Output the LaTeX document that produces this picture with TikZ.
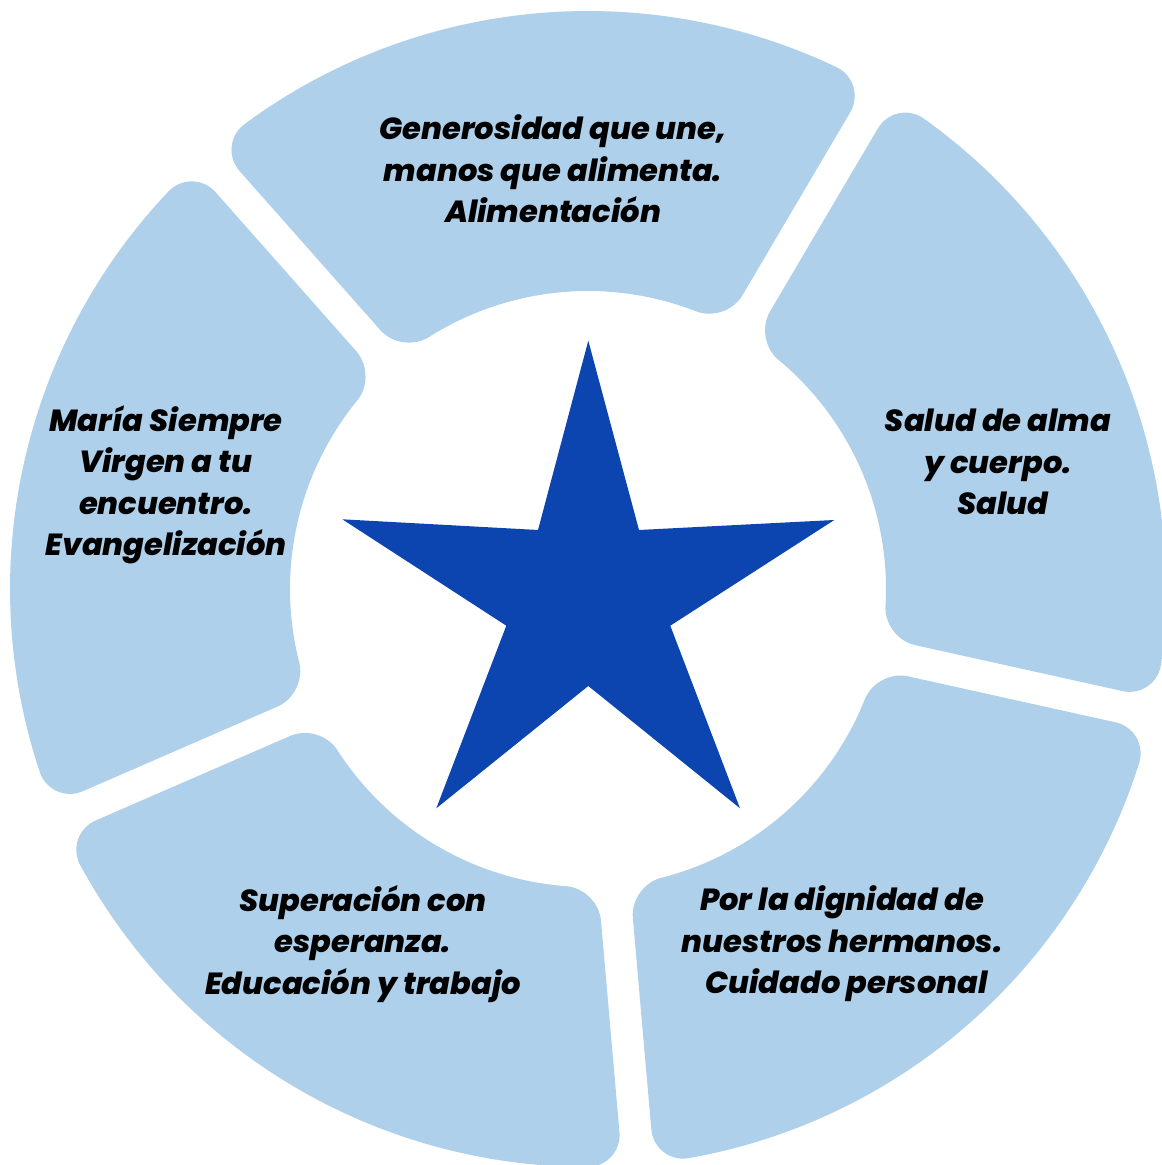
\documentclass[tikz,border=0pt]{standalone}
\usepackage{fontspec}
\setmainfont{Poppins}
\IfFontExistsTF{Poppins ExtraBold Italic}
  {\newfontfamily\lblfont{Poppins ExtraBold Italic}}
  {\newfontfamily\lblfont{Poppins Bold Italic}}
\usetikzlibrary{calc}
\definecolor{segblue}{HTML}{AFD0EA}
\definecolor{starblue}{HTML}{0C45B0}
\newcommand{\ringseg}[2]{%
 \pgfmathsetmacro{\pA}{#1+\dIn}%
 \pgfmathsetmacro{\pAe}{#1+\dIn+\eIn}%
 \pgfmathsetmacro{\pB}{#1+\dOut}%
 \pgfmathsetmacro{\pBe}{#1+\dOut+\eOut}%
 \pgfmathsetmacro{\pC}{#2-\dOut}%
 \pgfmathsetmacro{\pCe}{#2-\dOut-\eOut}%
 \pgfmathsetmacro{\pD}{#2-\dIn}%
 \pgfmathsetmacro{\pDe}{#2-\dIn-\eIn}%
 \coordinate (K1) at ($(C)+(\pA:\rIn)$);
 \coordinate (K2) at ($(C)+(\pB:\rOut)$);
 \coordinate (K3) at ($(C)+(\pC:\rOut)$);
 \coordinate (K4) at ($(C)+(\pD:\rIn)$);
 \coordinate (A1) at ($(K1)+(#1:\cornerd)$);
 \coordinate (B2) at ($(K2)-(#1:\cornerd)$);
 \coordinate (A2) at ($(C)+(\pBe:\rOut)$);
 \coordinate (B3) at ($(C)+(\pCe:\rOut)$);
 \coordinate (A3) at ($(K3)-(#2:\cornerd)$);
 \coordinate (B4) at ($(K4)+(#2:\cornerd)$);
 \coordinate (A4) at ($(C)+(\pDe:\rIn)$);
 \coordinate (B1) at ($(C)+(\pAe:\rIn)$);
 \fill[segblue] (A1) -- (B2)
   .. controls ($(B2)!0.55!(K2)$) and ($(A2)!0.55!(K2)$) .. (A2)
   arc[start angle=\pBe, end angle=\pCe, radius=\rOut]
   .. controls ($(B3)!0.55!(K3)$) and ($(A3)!0.55!(K3)$) .. (A3)
   -- (B4)
   .. controls ($(B4)!0.55!(K4)$) and ($(A4)!0.55!(K4)$) .. (A4)
   arc[start angle=\pDe, end angle=\pAe, radius=\rIn]
   .. controls ($(B1)!0.55!(K1)$) and ($(A1)!0.55!(K1)$) .. (A1) -- cycle;}
\tikzset{
  lbl/.style={align=center, inner sep=0pt, text=black,
    font=\lblfont\fontsize{30.5}{41.5}\selectfont}
}
\begin{document}
\begin{tikzpicture}[x=1pt,y=1pt]
\useasboundingbox (0,0) rectangle (1162,1165);
\coordinate (C) at (588,576);
\def\rOut{578}
\def\rIn{298}
\def\cornerd{34}
\def\halfgap{16}
\pgfmathsetmacro{\dOut}{asin(\halfgap/\rOut)}
\pgfmathsetmacro{\dIn}{asin(\halfgap/\rIn)}
\pgfmathsetmacro{\eOut}{\cornerd/\rOut*57.2958}
\pgfmathsetmacro{\eIn}{\cornerd/\rIn*57.2958}
\ringseg{59.5}{131.5}
\ringseg{-12.5}{59.5}
\ringseg{-85}{-12.5}
\ringseg{-156.5}{-85}
\ringseg{131.5}{203.5}
\fill[starblue] (588.3,824.3) -- (639,635) -- (834.3,645) -- (670.3,539.3)
  -- (740,356.7) -- (588.3,479) -- (436.3,356.7) -- (506.3,539.3)
  -- (342.3,645.7) -- (538,635) -- cycle;
\node[lbl] (top) at (553,996) {Generosidad que une,\\manos que alimenta.\\Alimentación};
\node[lbl] (right) at (998,703) {Salud de alma\\y cuerpo.\\\hspace*{0.3em}Salud};
\node[lbl] (left) at (166,680) {María Siempre\\Virgen a tu\\encuentro.\\Evangelización};
\node[lbl] (botleft) at (363,221) {Superación con\\esperanza.\\Educación y trabajo};
\node[lbl] (botright) at (842,221) {Por la dignidad de\\nuestros hermanos.\\\hspace*{0.3em}Cuidado personal};
\end{tikzpicture}
\end{document}
